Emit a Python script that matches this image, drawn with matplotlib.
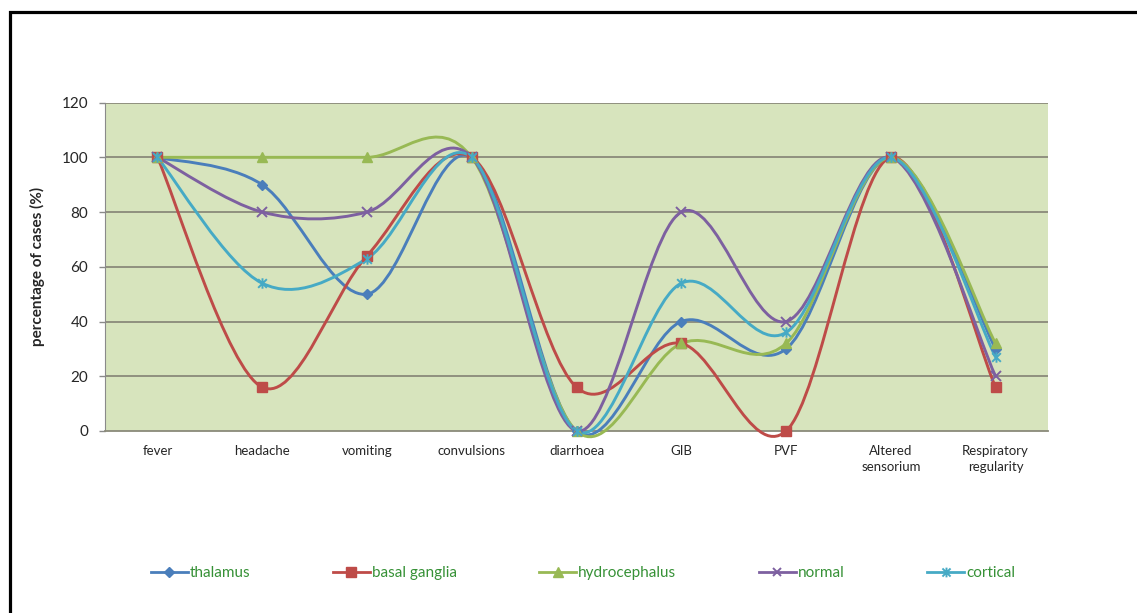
import numpy as np
import matplotlib
matplotlib.use("Agg")
import matplotlib.pyplot as plt
from matplotlib.path import Path
from matplotlib.patches import PathPatch
from matplotlib.lines import Line2D

plt.rcParams['font.family'] = ['Lato', 'DejaVu Sans']

categories = ["fever", "headache", "vomiting", "convulsions", "diarrhoea",
              "GIB", "PVF", "Altered\nsensorium", "Respiratory\nregularity"]

thalamus = [100, 90, 50, 100, 0, 40, 30, 100, 30]
basal_ganglia = [100, 16, 64, 100, 16, 32, 0, 100, 16]
hydrocephalus = [100, 100, 100, 100, 0, 32, 32, 100, 32]
normal = [100, 80, 80, 100, 0, 80, 40, 100, 20]
cortical = [100, 54, 63, 100, 0, 54, 36, 100, 27]

series_names = ["thalamus", "basal ganglia", "hydrocephalus", "normal", "cortical"]
series_values = [thalamus, basal_ganglia, hydrocephalus, normal, cortical]
yticks = [0, 20, 40, 60, 80, 100, 120]

colors = ["#4A7EBB", "#BE4B48", "#98B954", "#7D60A0", "#46AAC5"]

# asterisk-like marker: an x with a vertical stroke
star_path = Path([(-1, -1), (1, 1), (-1, 1), (1, -1), (0, -1.2), (0, 1.2)],
                 [Path.MOVETO, Path.LINETO, Path.MOVETO, Path.LINETO,
                  Path.MOVETO, Path.LINETO])
markers = ["D", "s", "^", "x", star_path]
msizes = [5.5, 7, 7, 6.5, 7.5]
leg_msizes = [5, 6.5, 6.5, 6, 7]


def smooth_path(xs, ys):
    """Cubic Bezier path through the points (Catmull-Rom style smoothing)."""
    pts = np.column_stack([xs, ys]).astype(float)
    n = len(pts)
    verts = [pts[0]]
    codes = [Path.MOVETO]
    for i in range(n - 1):
        p0 = pts[i - 1] if i > 0 else pts[i]
        p1 = pts[i]
        p2 = pts[i + 1]
        p3 = pts[i + 2] if i + 2 < n else pts[i + 1]
        c1 = p1 + (p2 - p0) / 6.0
        c2 = p2 - (p3 - p1) / 6.0
        verts += [c1, c2, p2]
        codes += [Path.CURVE4] * 3
    return Path(verts, codes)


def is_open(mk):
    return mk == "x" or isinstance(mk, Path)


W, H = 1137, 613
fig = plt.figure(figsize=(W / 100, H / 100), dpi=100)
fig.patch.set_facecolor("white")

left_px, right_px, top_px, bot_px = 105, 1048, 102.6, 431
ax = fig.add_axes([left_px / W, 1 - bot_px / H,
                   (right_px - left_px) / W, (bot_px - top_px) / H])
ax.set_facecolor("#D7E4BD")

x = np.arange(len(categories))
ax.set_xlim(-0.5, len(categories) - 0.5)
ax.set_ylim(0, 120)

for yv in yticks[1:]:
    ax.axhline(yv, color="#8A8A7A", lw=1.3, zorder=1)

for name, vals, col, mk, ms in zip(series_names, series_values, colors, markers, msizes):
    patch = PathPatch(smooth_path(x, vals), facecolor="none", edgecolor=col,
                      lw=2.1, zorder=3, clip_on=False, capstyle="round",
                      joinstyle="round")
    ax.add_patch(patch)
    if is_open(mk):
        ax.plot(x, vals, ls="none", marker=mk, ms=ms, mec=col, mfc="none",
                mew=1.4, zorder=4, clip_on=False)
    else:
        ax.plot(x, vals, ls="none", marker=mk, ms=ms, mec=col, mfc=col,
                zorder=4, clip_on=False)

ax.set_yticks(yticks)
ax.set_xticks(x)
ax.set_xticklabels(categories, fontsize=9.5, color="#262626", linespacing=1.45)
ax.tick_params(axis="x", length=0, pad=10)
ax.tick_params(axis="y", length=4, width=1, color="#8A8A8A", pad=8,
               labelsize=11, labelcolor="#262626")

for side in ("top", "right"):
    ax.spines[side].set_visible(False)
ax.spines["left"].set_color("#8A8A8A")
ax.spines["bottom"].set_color("#8A8A7A")
ax.spines["bottom"].set_linewidth(1.3)

ax.set_ylabel("percentage of cases (%)", fontsize=11, fontweight="bold",
              color="#262626")
ax.yaxis.set_label_coords((45 - left_px) / (right_px - left_px), 0.5)

handles = []
for name, col, mk, ms in zip(series_names, colors, markers, leg_msizes):
    if is_open(mk):
        h = Line2D([], [], color=col, lw=2, marker=mk, ms=ms, mec=col,
                   mfc="none", mew=1.4)
    else:
        h = Line2D([], [], color=col, lw=2, marker=mk, ms=ms, mec=col, mfc=col)
    handles.append(h)

leg = fig.legend(handles, series_names, loc="center", ncol=5,
                 bbox_to_anchor=(583 / W, 1 - 573 / H), frameon=False,
                 fontsize=11, handlelength=2.4, handletextpad=0.15,
                 columnspacing=5.4)
for t in leg.get_texts():
    t.set_color("#369136")

# frame lines along the left and top edges
fy = 1 - 11.5 / H
fx = 9.5 / W
fig.add_artist(Line2D([fx, fx, 1.0], [0.0, fy, fy], transform=fig.transFigure,
                      color="black", lw=2.3, solid_joinstyle="miter"))

fig.savefig("out.png", dpi=100)
